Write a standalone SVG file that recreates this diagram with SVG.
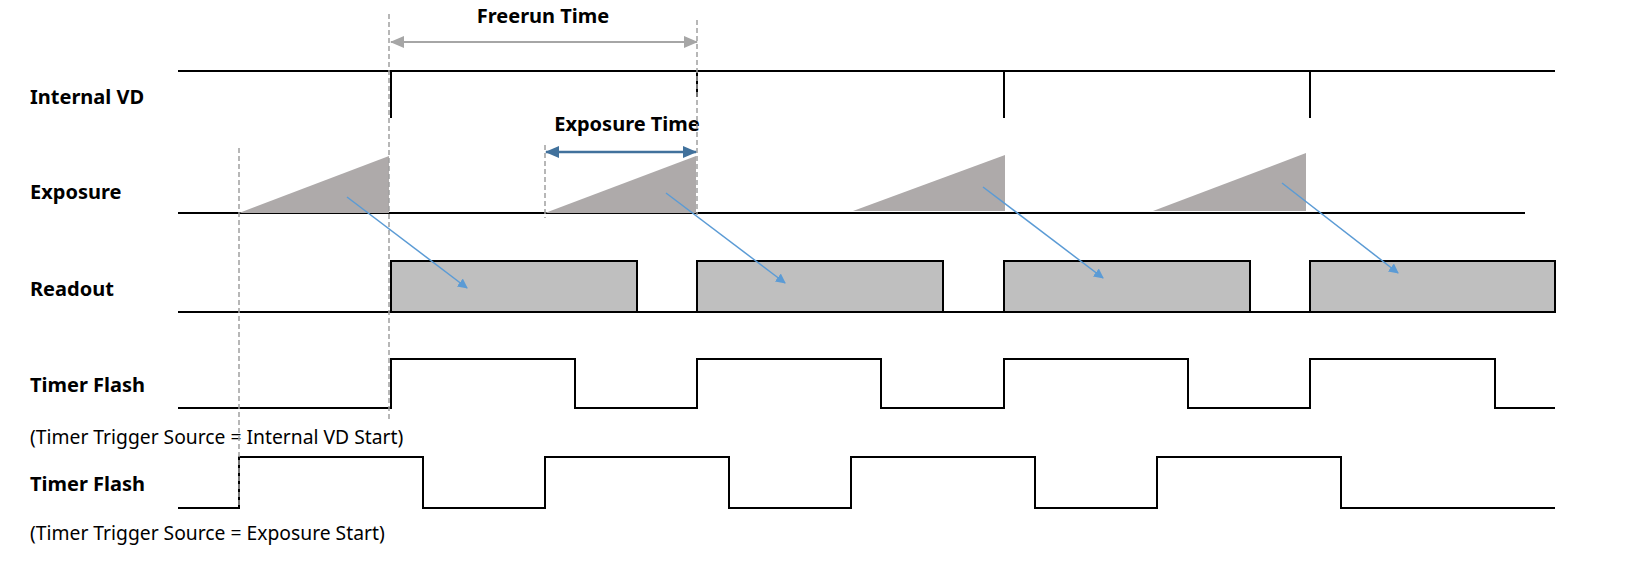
<svg xmlns="http://www.w3.org/2000/svg" width="1638" height="574" viewBox="0 0 1638 574">
<style>
.lbl{font-family:"Noto Sans","Liberation Sans",sans-serif;font-weight:bold;font-size:20px;fill:#000}
.note{font-family:"Noto Sans","Liberation Sans",sans-serif;font-size:19.3px;fill:#000}
.sig{fill:none;stroke:#000;stroke-width:2}
.dash{stroke:#a0a0a0;stroke-width:1.5;stroke-dasharray:5,3;fill:none}
.tri{fill:#aeaaaa}
.ro{fill:#bfbfbf;stroke:#000;stroke-width:2}
.blue{stroke:#5b9bd5;stroke-width:1.5;marker-end:url(#ab)}
</style>
<defs>
<marker id="ab" markerWidth="10" markerHeight="10" refX="9" refY="5" orient="auto" markerUnits="userSpaceOnUse"><path d="M0,0L10,5L0,10z" fill="#5b9bd5"/></marker>
<marker id="ag" markerWidth="14" markerHeight="12" refX="13" refY="6" orient="auto-start-reverse" markerUnits="userSpaceOnUse"><path d="M0,0L14,6L0,12z" fill="#a6a6a6"/></marker>
<marker id="ad" markerWidth="14" markerHeight="12" refX="13" refY="6" orient="auto-start-reverse" markerUnits="userSpaceOnUse"><path d="M0,0L14,6L0,12z" fill="#41719c"/></marker>
</defs>
<rect width="1638" height="574" fill="#fff"/>
<g id="labels">
<text class="lbl" x="30" y="104">Internal VD</text>
<text class="lbl" x="30" y="199">Exposure</text>
<text class="lbl" x="30" y="296">Readout</text>
<text class="lbl" x="30" y="392">Timer Flash</text>
<text class="note" x="30" y="444">(Timer Trigger Source = Internal VD Start)</text>
<text class="lbl" x="30" y="491">Timer Flash</text>
<text class="note" x="30" y="540">(Timer Trigger Source = Exposure Start)</text>
<text class="lbl" x="543" y="23" text-anchor="middle">Freerun Time</text>
<text class="lbl" x="627" y="131" text-anchor="middle">Exposure Time</text>
</g>
<g id="exposure">
<line class="sig" x1="178" y1="213" x2="1525" y2="213" stroke-width="1.5"/>
<polygon class="tri" points="239,213 389,156 389,213"/>
<polygon class="tri" points="545,213 696,156 696,213"/>
<polygon class="tri" points="853,211 1005,155 1005,211"/>
<polygon class="tri" points="1153,211 1306,153 1306,211"/>
</g>
<g id="readout">
<line class="sig" x1="178" y1="312" x2="1555" y2="312" stroke-width="1.5"/>
<rect class="ro" x="391" y="261" width="246" height="51"/>
<rect class="ro" x="697" y="261" width="246" height="51"/>
<rect class="ro" x="1004" y="261" width="246" height="51"/>
<rect class="ro" x="1310" y="261" width="245" height="51"/>
</g>
<g id="vd">
<path class="sig" d="M178,71H1555M391,71V118M697,71V97M1004,71V118M1310,71V118"/>
</g>
<g id="flash1">
<path class="sig" d="M178,408H391V359H575V408H697V359H881V408H1004V359H1188V408H1310V359H1495V408H1555"/>
</g>
<g id="flash2">
<path class="sig" d="M178,508H239V457H423V508H545V457H729V508H851V457H1035V508H1157V457H1341V508H1555"/>
</g>
<g id="connectors">
<line class="dash" x1="239" y1="148" x2="239" y2="505"/>
<line class="dash" x1="389" y1="14" x2="389" y2="420"/>
<line class="dash" x1="545" y1="145" x2="545" y2="218"/>
<line class="dash" x1="697" y1="20" x2="697" y2="215"/>
<line x1="391" y1="42" x2="697" y2="42" stroke="#a6a6a6" stroke-width="2" marker-start="url(#ag)" marker-end="url(#ag)"/>
<line x1="546" y1="152" x2="696" y2="152" stroke="#41719c" stroke-width="2.5" marker-start="url(#ad)" marker-end="url(#ad)"/>
<line class="blue" x1="347" y1="197" x2="467" y2="288"/>
<line class="blue" x1="666" y1="193" x2="785" y2="283"/>
<line class="blue" x1="983" y1="187" x2="1103" y2="278"/>
<line class="blue" x1="1282" y1="183" x2="1398" y2="273"/>
</g>
</svg>
